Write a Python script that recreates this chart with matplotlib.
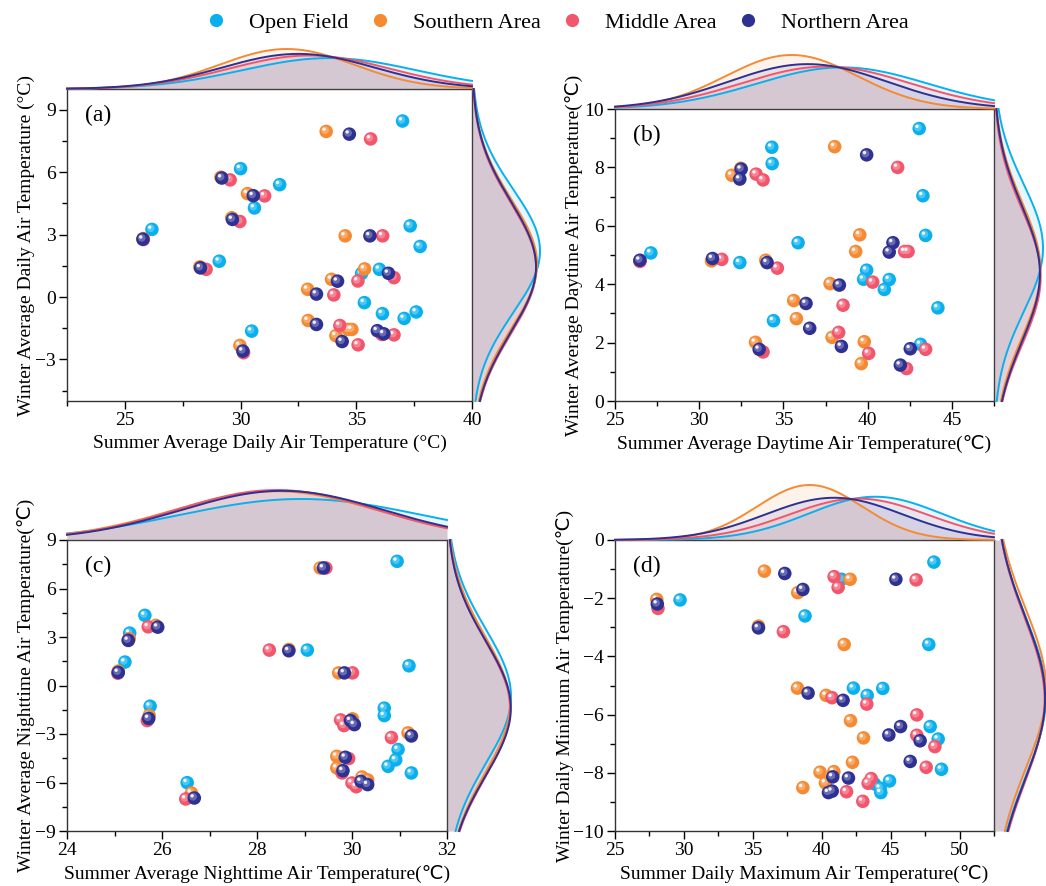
import numpy as np
import matplotlib
matplotlib.use("Agg")
import matplotlib.pyplot as plt
from matplotlib import transforms
from matplotlib.lines import Line2D
from matplotlib.ticker import MultipleLocator

plt.rcParams['font.family'] = ['Liberation Serif', 'DejaVu Sans']
plt.rcParams['axes.unicode_minus'] = True

SERIES = ["Open Field", "Southern Area", "Middle Area", "Northern Area"]
COLORS = ["#0AB0EE", "#F58A32", "#F2566D", "#2E3192"]

# ---------------- Panel (a): daily average ----------------
A_OPEN_X = [37.0, 30.0, 31.69, 30.6, 26.17, 37.33, 37.76, 29.08, 36.0, 35.23, 35.35, 36.13, 37.07, 37.59, 30.48]
A_OPEN_Y = [8.46, 6.17, 5.40, 4.28, 3.25, 3.42, 2.43, 1.72, 1.33, 1.13, -0.27, -0.80, -1.03, -0.72, -1.64]
A_SOUTH_X = [33.70, 29.15, 30.30, 29.62, 25.79, 34.52, 28.24, 35.36, 33.93, 32.90, 32.92, 34.65, 34.81, 34.12, 29.97]
A_SOUTH_Y = [7.96, 5.76, 4.97, 3.81, 2.81, 2.94, 1.45, 1.35, 0.85, 0.37, -1.13, -1.56, -1.56, -1.86, -2.33]
A_MID_X = [35.62, 29.55, 31.04, 29.97, 25.80, 36.14, 28.51, 35.07, 36.63, 34.03, 34.29, 36.11, 36.63, 35.08, 30.13]
A_MID_Y = [7.60, 5.63, 4.86, 3.63, 2.76, 2.94, 1.33, 0.77, 0.93, 0.10, -1.37, -1.80, -1.82, -2.30, -2.68]
A_NORTH_X = [34.70, 29.19, 30.55, 29.65, 25.78, 35.59, 28.27, 36.39, 34.19, 33.28, 33.28, 35.91, 36.19, 34.39, 30.10]
A_NORTH_Y = [7.83, 5.72, 4.87, 3.73, 2.78, 2.94, 1.40, 1.14, 0.76, 0.14, -1.32, -1.62, -1.77, -2.14, -2.60]

# ---------------- Panel (b): daytime average ----------------
B_OPEN_X = [43.06, 34.31, 34.33, 43.28, 43.44, 35.87, 27.13, 32.41, 39.94, 39.76, 41.28, 40.99, 44.17, 34.41, 43.14]
B_OPEN_Y = [9.33, 8.69, 8.13, 7.03, 5.67, 5.42, 5.07, 4.74, 4.48, 4.17, 4.16, 3.82, 3.19, 2.75, 1.94]
B_SOUTH_X = [38.04, 31.94, 32.47, 39.53, 39.29, 30.73, 33.95, 37.77, 35.61, 35.77, 37.89, 39.80, 33.34, 39.62, 26.48]
B_SOUTH_Y = [8.71, 7.73, 7.97, 5.69, 5.12, 4.80, 4.82, 4.02, 3.44, 2.82, 2.18, 2.03, 2.01, 1.28, 4.80]
B_MID_X = [41.78, 33.38, 33.79, 31.34, 34.64, 42.20, 42.40, 40.30, 38.54, 38.28, 40.06, 33.79, 43.44, 42.31, 26.48]
B_MID_Y = [8.00, 7.77, 7.57, 4.85, 4.55, 5.12, 5.12, 4.07, 3.28, 2.35, 1.63, 1.68, 1.77, 1.11, 4.78]
B_NORTH_X = [39.94, 32.49, 32.41, 26.48, 30.79, 34.03, 41.50, 41.28, 38.32, 36.34, 36.56, 33.56, 38.44, 42.53, 41.94]
B_NORTH_Y = [8.43, 7.94, 7.60, 4.82, 4.88, 4.74, 5.42, 5.10, 3.97, 3.34, 2.49, 1.77, 1.87, 1.79, 1.23]

# ---------------- Panel (c): nighttime average ----------------
C_OPEN_X = [30.95, 25.64, 25.32, 25.22, 29.06, 31.20, 25.75, 30.68, 30.68, 30.97, 30.92, 30.76, 31.25, 26.53]
C_OPEN_Y = [7.68, 4.34, 3.24, 1.45, 2.19, 1.22, -1.28, -1.40, -1.86, -3.96, -4.60, -5.00, -5.41, -6.01]
C_SOUTH_X = [29.33, 25.87, 25.31, 25.08, 28.67, 29.72, 25.73, 30.01, 31.18, 29.68, 29.68, 30.21, 30.33, 26.62]
C_SOUTH_Y = [7.27, 3.72, 2.89, 0.89, 2.23, 0.78, -1.86, -2.06, -2.93, -4.38, -5.10, -5.66, -5.84, -6.65]
C_MID_X = [29.45, 25.71, 25.29, 25.07, 28.26, 30.01, 25.69, 29.76, 29.83, 30.83, 29.93, 29.79, 30.00, 30.09, 26.50]
C_MID_Y = [7.27, 3.63, 2.81, 0.76, 2.19, 0.78, -2.17, -2.13, -2.48, -3.22, -4.52, -5.41, -6.03, -6.26, -7.02]
C_NORTH_X = [29.40, 25.91, 25.29, 25.08, 28.67, 29.84, 25.72, 29.97, 30.05, 31.25, 29.86, 29.81, 30.19, 30.33, 26.68]
C_NORTH_Y = [7.27, 3.61, 2.79, 0.81, 2.15, 0.78, -2.04, -2.17, -2.42, -3.12, -4.44, -5.27, -5.93, -6.13, -6.96]

# ---------------- Panel (d): daily max / min ----------------
D_OPEN_X = [48.14, 41.43, 29.72, 38.79, 47.77, 42.30, 44.43, 43.30, 47.87, 48.45, 48.69, 44.92, 43.83, 44.24, 44.29]
D_OPEN_Y = [-0.76, -1.35, -2.06, -2.61, -3.59, -5.09, -5.10, -5.34, -6.41, -6.84, -7.88, -8.28, -8.38, -8.53, -8.68]
D_SOUTH_X = [35.84, 42.06, 28.03, 38.26, 35.41, 41.63, 38.24, 40.32, 42.09, 43.03, 42.23, 39.88, 40.88, 40.27, 38.63]
D_SOUTH_Y = [-1.07, -1.35, -2.04, -1.81, -2.96, -3.59, -5.09, -5.34, -6.21, -6.80, -7.64, -7.98, -7.96, -8.35, -8.51]
D_MID_X = [40.90, 41.19, 46.85, 28.12, 37.22, 40.75, 43.27, 46.90, 46.90, 48.21, 47.58, 43.59, 43.37, 41.80, 42.98]
D_MID_Y = [-1.26, -1.63, -1.37, -2.35, -3.15, -5.42, -5.64, -6.01, -6.71, -7.10, -7.81, -8.20, -8.36, -8.65, -8.98]
D_NORTH_X = [37.32, 45.38, 38.63, 28.07, 35.41, 39.01, 41.55, 45.72, 44.87, 47.14, 46.42, 40.80, 41.94, 40.76, 40.49]
D_NORTH_Y = [-1.15, -1.35, -1.70, -2.20, -3.02, -5.26, -5.51, -6.41, -6.70, -6.90, -7.61, -8.14, -8.18, -8.63, -8.68]

PANELS = [
    dict(tag="(a)", xs=[A_OPEN_X, A_SOUTH_X, A_MID_X, A_NORTH_X], ys=[A_OPEN_Y, A_SOUTH_Y, A_MID_Y, A_NORTH_Y],
         xlim=(22.5, 40), ylim=(-5, 10), xmaj=5, xmin=2.5, ymaj=3, ymin=1.5, yticks0=-3,
         xlabel="Summer Average Daily Air Temperature (°C)", ylabel="Winter Average Daily Air Temperature (°C)",
         box=(67, 472, 89, 401), top_h=40, right_w=68, ylab_x=26),
    dict(tag="(b)", xs=[B_OPEN_X, B_SOUTH_X, B_MID_X, B_NORTH_X], ys=[B_OPEN_Y, B_SOUTH_Y, B_MID_Y, B_NORTH_Y],
         xlim=(25, 47.5), ylim=(0, 10), xmaj=5, xmin=2.5, ymaj=2, ymin=1, yticks0=None,
         xlabel="Summer Average Daytime Air Temperature(℃)", ylabel="Winter Average Daytime Air Temperature(℃)",
         box=(615, 994, 109, 401), top_h=54, right_w=49, ylab_x=574),
    dict(tag="(c)", xs=[C_OPEN_X, C_SOUTH_X, C_MID_X, C_NORTH_X], ys=[C_OPEN_Y, C_SOUTH_Y, C_MID_Y, C_NORTH_Y],
         xlim=(24, 32), ylim=(-9, 9), xmaj=2, xmin=1, ymaj=3, ymin=1.5, yticks0=None,
         xlabel="Summer Average Nighttime Air Temperature(℃)", ylabel="Winter Average Nighttime Air Temperature(℃)",
         box=(67, 447, 540, 831), top_h=50, right_w=64, ylab_x=26),
    dict(tag="(d)", xs=[D_OPEN_X, D_SOUTH_X, D_MID_X, D_NORTH_X], ys=[D_OPEN_Y, D_SOUTH_Y, D_MID_Y, D_NORTH_Y],
         xlim=(25, 52.5), ylim=(-10, 0), xmaj=5, xmin=2.5, ymaj=2, ymin=1, yticks0=None,
         xlabel="Summer Daily Maximum Air Temperature(℃)", ylabel="Winter Daily Minimum Air Temperature(℃)",
         box=(615, 994, 540, 831), top_h=55, right_w=52, ylab_x=565),
]

W, H = 1046, 886
fig = plt.figure(figsize=(W / 100, H / 100), dpi=100)


def rect(l, r, t, b):
    return [l / W, 1 - b / H, (r - l) / W, (b - t) / H]


def normal_curve(vals, grid):
    v = np.asarray(vals, float)
    mu, sd = v.mean(), v.std(ddof=1)
    return np.exp(-0.5 * ((grid - mu) / sd) ** 2) / (sd * np.sqrt(2 * np.pi))


def lighten(c, f):
    r, g, b = matplotlib.colors.to_rgb(c)
    return (r + (1 - r) * f, g + (1 - g) * f, b + (1 - b) * f)


FILL_ALPHA = 0.10

for P in PANELS:
    l, r, t, b = P["box"]
    ax = fig.add_axes(rect(l, r, t, b))
    ax.set_xlim(*P["xlim"])
    ax.set_ylim(*P["ylim"])
    # balls with a small highlight
    for xs, ys, c in zip(P["xs"], P["ys"], COLORS):
        ax.scatter(xs, ys, s=95, color=c, edgecolors='none', zorder=3)
        t1 = ax.transData + transforms.ScaledTranslation(-0.012, 0.012, fig.dpi_scale_trans)
        ax.scatter(xs, ys, s=30, color=lighten(c, 0.35), edgecolors='none', transform=t1, zorder=3, alpha=0.8)
        t2 = ax.transData + transforms.ScaledTranslation(-0.022, 0.022, fig.dpi_scale_trans)
        ax.scatter(xs, ys, s=6, color='white', edgecolors='none', transform=t2, zorder=3, alpha=0.9)
    ax.xaxis.set_major_locator(MultipleLocator(P["xmaj"]))
    ax.xaxis.set_minor_locator(MultipleLocator(P["xmin"]))
    if P["yticks0"] is not None:
        yt = np.arange(P["yticks0"], P["ylim"][1] + 0.01, P["ymaj"])
        ax.set_yticks(yt)
        ax.yaxis.set_minor_locator(MultipleLocator(P["ymin"]))
    else:
        ax.yaxis.set_major_locator(MultipleLocator(P["ymaj"]))
        ax.yaxis.set_minor_locator(MultipleLocator(P["ymin"]))
    ax.tick_params(which='major', direction='out', length=6, width=1, labelsize=14, pad=2)
    ax.tick_params(which='minor', direction='out', length=3.5, width=1)
    for s in ax.spines.values():
        s.set_linewidth(1.0)
        s.set_color('#333333')
    ax.set_xlabel(P["xlabel"], fontsize=14, labelpad=4)
    ax.set_ylabel(P["ylabel"], fontsize=14)
    ax.yaxis.set_label_coords((P["ylab_x"] - l) / (r - l), 0.5)
    ax.yaxis.label.set_va('center')
    ax.annotate(P["tag"], xy=(0, 1), xycoords='axes fraction', xytext=(13, -19),
                textcoords='offset points', fontsize=17, va='center', ha='left')

    # top marginal: fitted normal distribution curves
    gx = np.linspace(P["xlim"][0], P["xlim"][1], 300)
    dens_x = [normal_curve(xs, gx) for xs in P["xs"]]
    axt = fig.add_axes(rect(l, r, t - P["top_h"], t))
    axt.set_xlim(*P["xlim"])
    axt.set_ylim(0, max(d.max() for d in dens_x))
    axt.axis('off')
    for d, c in zip(dens_x, COLORS):
        axt.fill_between(gx, 0, d, color=c, alpha=FILL_ALPHA, linewidth=0, clip_on=False)
        axt.plot(gx, d, color=c, lw=1.4, clip_on=False)

    # right marginal
    gy = np.linspace(P["ylim"][0], P["ylim"][1], 300)
    dens_y = [normal_curve(ys, gy) for ys in P["ys"]]
    axr = fig.add_axes(rect(r, r + P["right_w"], t, b))
    axr.set_ylim(*P["ylim"])
    axr.set_xlim(0, max(d.max() for d in dens_y))
    axr.axis('off')
    for d, c in zip(dens_y, COLORS):
        axr.fill_betweenx(gy, 0, d, color=c, alpha=FILL_ALPHA, linewidth=0, clip_on=False)
        axr.plot(d, gy, color=c, lw=1.4, clip_on=False)

handles = [Line2D([], [], ls='none', marker='o', ms=9.5, color=c, mec='none') for c in COLORS]
fig.legend(handles, SERIES, loc='center', bbox_to_anchor=(557 / W, 1 - 23 / H), ncol=4, frameon=False,
           fontsize=16, handlelength=1.0, handletextpad=1.0, columnspacing=0.9)

fig.savefig("out.png", dpi=100)
